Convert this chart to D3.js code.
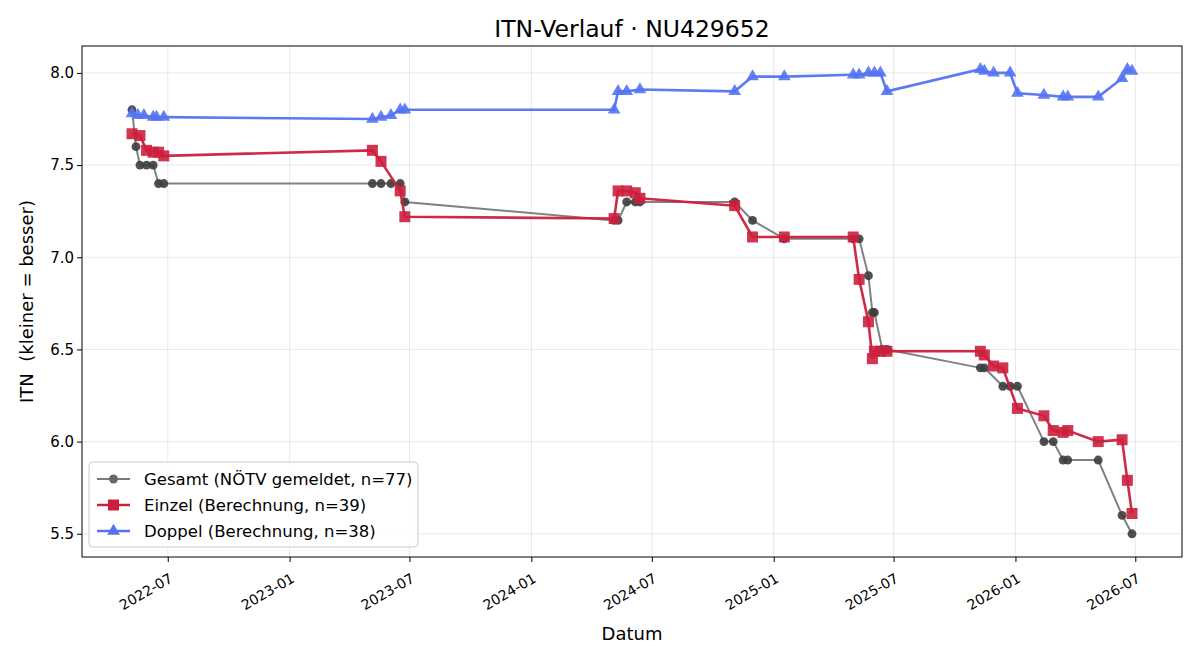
<!DOCTYPE html>
<html>
<head>
<meta charset="utf-8">
<script src="https://cdn.jsdelivr.net/npm/d3@7"></script>
<style>
  body { margin: 0; background: #fff; }
  svg, svg text { font-family: "DejaVu Sans", sans-serif; }
</style>
</head>
<body>
<svg width="1200" height="660"></svg>
<script>
var width = 1200;
var height = 660;
var margin = { top: 46, right: 18, bottom: 103, left: 82 };

// Gesamt (NÖTV gemeldet)
var gesamtDates = ['2022-05-08','2022-05-14','2022-05-20','2022-05-30','2022-06-09','2022-06-17','2022-06-25',
  '2023-05-06','2023-05-19','2023-06-03','2023-06-17','2023-06-24',
  '2024-05-05','2024-05-11','2024-05-24','2024-06-06','2024-06-13','2024-11-03','2024-11-30',
  '2025-01-17','2025-05-01','2025-05-10','2025-05-24','2025-05-30','2025-06-02','2025-06-14','2025-06-21',
  '2025-11-09','2025-11-15','2025-12-13','2025-12-24','2026-01-04','2026-02-13','2026-02-27',
  '2026-03-14','2026-03-21','2026-05-06','2026-06-11','2026-06-26'];
var gesamtValues = [7.80,7.60,7.50,7.50,7.50,7.40,7.40,
  7.40,7.40,7.40,7.40,7.30,
  7.20,7.20,7.30,7.30,7.30,7.30,7.20,
  7.10,7.10,7.10,6.90,6.70,6.70,6.50,6.50,
  6.40,6.40,6.30,6.30,6.30,6.00,6.00,
  5.90,5.90,5.90,5.60,5.50];

// Einzel (Berechnung)
var einzelDates = ['2022-05-08','2022-05-20','2022-05-30','2022-06-09','2022-06-17','2022-06-25',
  '2023-05-06','2023-05-19','2023-06-17','2023-06-24',
  '2024-05-05','2024-05-11','2024-05-24','2024-06-06','2024-06-13','2024-11-03','2024-11-30',
  '2025-01-17','2025-05-01','2025-05-10','2025-05-24','2025-05-30','2025-06-02','2025-06-11','2025-06-21',
  '2025-11-09','2025-11-15','2025-11-29','2025-12-13','2026-01-04','2026-02-13','2026-02-27',
  '2026-03-14','2026-03-21','2026-05-06','2026-06-11','2026-06-19','2026-06-26'];
var einzelValues = [7.67,7.66,7.58,7.57,7.57,7.55,
  7.58,7.52,7.36,7.22,
  7.21,7.36,7.36,7.35,7.32,7.28,7.11,
  7.11,7.11,6.88,6.65,6.45,6.49,6.49,6.49,
  6.49,6.47,6.41,6.40,6.18,6.14,6.06,
  6.05,6.06,6.00,6.01,5.79,5.61];

// Doppel (Berechnung)
var doppelDates = ['2022-05-08','2022-05-17','2022-05-26','2022-06-09','2022-06-14','2022-06-25',
  '2023-05-06','2023-05-19','2023-06-03','2023-06-17','2023-06-24',
  '2024-05-05','2024-05-11','2024-05-24','2024-06-13','2024-11-03','2024-11-30',
  '2025-01-17','2025-05-01','2025-05-10','2025-05-24','2025-06-02','2025-06-11','2025-06-21',
  '2025-11-09','2025-11-15','2025-11-29','2025-12-24','2026-01-04','2026-02-13',
  '2026-03-14','2026-03-21','2026-05-06','2026-06-11','2026-06-19','2026-06-26'];
var doppelValues = [7.78,7.77,7.77,7.76,7.76,7.76,
  7.75,7.76,7.77,7.80,7.80,
  7.80,7.90,7.90,7.91,7.90,7.98,
  7.98,7.99,7.99,8.00,8.00,8.00,7.90,
  8.02,8.01,8.00,8.00,7.89,7.88,
  7.87,7.87,7.87,7.97,8.02,8.01];

var yTicks = [5.5, 6.0, 6.5, 7.0, 7.5, 8.0];

var parse = d3.timeParse('%Y-%m-%d');
function zipSeries(dates, values) {
  return dates.map((d, i) => ({ date: parse(d), value: values[i] }));
}
var series = [
  { name: 'Gesamt (NÖTV gemeldet, n=77)', data: zipSeries(gesamtDates, gesamtValues),
    line: '#7a7a7a', lineWidth: 2, marker: 'circle', fill: '#3d3d3d', legendFill: '#666666', size: 62 },
  { name: 'Einzel (Berechnung, n=39)', data: zipSeries(einzelDates, einzelValues),
    line: '#cc1f3d', lineWidth: 2.6, marker: 'square', fill: '#cc1f3d', legendFill: '#cc1f3d', size: 121 },
  { name: 'Doppel (Berechnung, n=38)', data: zipSeries(doppelDates, doppelValues),
    line: '#5473f2', lineWidth: 2.6, marker: 'triangle', fill: '#5473f2', legendFill: '#5473f2', size: 70 }
];

var allPts = series.flatMap(s => s.data);
var xExt = d3.extent(allPts, d => d.date);
var xPad = (xExt[1] - xExt[0]) * 0.05;
var yExt = d3.extent(allPts, d => d.value);
var yPad = (yExt[1] - yExt[0]) * 0.05;

var xScale = d3.scaleTime()
  .domain([new Date(+xExt[0] - xPad), new Date(+xExt[1] + xPad)])
  .range([margin.left, width - margin.right]);

var yScale = d3.scaleLinear()
  .domain([yExt[0] - yPad, yExt[1] + yPad])
  .range([height - margin.bottom, margin.top]);

var xTicks = d3.timeMonth.every(6).range(new Date(2022, 6, 1), new Date(2026, 7, 1));

var svg = d3.select('svg');

// grid
svg.append('g')
  .selectAll('line')
  .data(xTicks)
  .enter()
  .append('line')
    .attr('x1', d => xScale(d)).attr('x2', d => xScale(d))
    .attr('y1', margin.top).attr('y2', height - margin.bottom)
    .attr('stroke', '#b0b0b0').attr('stroke-opacity', 0.35).attr('stroke-width', 0.8);

svg.append('g')
  .selectAll('line')
  .data(yTicks)
  .enter()
  .append('line')
    .attr('x1', margin.left).attr('x2', width - margin.right)
    .attr('y1', d => yScale(d)).attr('y2', d => yScale(d))
    .attr('stroke', '#b0b0b0').attr('stroke-opacity', 0.35).attr('stroke-width', 0.8);

// lines + markers
var symbolTypes = { circle: d3.symbolCircle, square: d3.symbolSquare, triangle: d3.symbolTriangle };

series.forEach(function(s) {
  var line = d3.line().x(d => xScale(d.date)).y(d => yScale(d.value));
  svg.append('path')
    .datum(s.data)
    .attr('d', line)
    .attr('fill', 'none')
    .attr('stroke', s.line)
    .attr('stroke-width', s.lineWidth)
    .attr('stroke-opacity', 0.95);

  svg.append('g')
    .selectAll('path')
    .data(s.data)
    .enter()
    .append('path')
      .attr('transform', d => `translate(${xScale(d.date)},${yScale(d.value)})`)
      .attr('d', d3.symbol().type(symbolTypes[s.marker]).size(s.size))
      .attr('fill', s.fill)
      .attr('fill-opacity', 0.9);
});

// axes
var xAxis = d3.axisBottom(xScale)
  .tickValues(xTicks)
  .tickFormat(d3.timeFormat('%Y-%m'))
  .tickSize(5)
  .tickSizeOuter(0);

var yAxis = d3.axisLeft(yScale)
  .tickValues(yTicks)
  .tickFormat(d3.format('.1f'))
  .tickSize(5)
  .tickSizeOuter(0);

var gx = svg.append('g')
  .attr('transform', `translate(0, ${height - margin.bottom})`)
  .call(xAxis)
  .attr('font-family', 'DejaVu Sans')
  .attr('font-size', 14);
gx.select('.domain').remove();
gx.selectAll('text')
  .attr('fill', '#000')
  .attr('text-anchor', 'end')
  .attr('dy', '0.35em')
  .attr('transform', 'translate(-1,13) rotate(-30)');

var gy = svg.append('g')
  .attr('transform', `translate(${margin.left}, 0)`)
  .call(yAxis)
  .attr('font-family', 'DejaVu Sans')
  .attr('font-size', 15);
gy.select('.domain').remove();
gy.selectAll('text').attr('fill', '#000');

// frame
svg.append('rect')
  .attr('x', margin.left).attr('y', margin.top)
  .attr('width', width - margin.left - margin.right)
  .attr('height', height - margin.top - margin.bottom)
  .attr('fill', 'none').attr('stroke', '#000').attr('stroke-width', 1);

//title
svg.append('text')
  .attr('x', (margin.left + width - margin.right) / 2)
  .attr('y', 37)
  .style('text-anchor', 'middle')
  .style('font-size', '23.5px')
  .text('ITN-Verlauf · NU429652');

//x-axis label
svg.append('text')
  .attr('x', (margin.left + width - margin.right) / 2)
  .attr('y', 640)
  .style('text-anchor', 'middle')
  .style('font-size', '18px')
  .text('Datum');

//y-axis label
svg.append('text')
  .attr('transform', 'rotate(-90)')
  .attr('x', -(margin.top + height - margin.bottom) / 2)
  .attr('y', 33)
  .style('text-anchor', 'middle')
  .style('font-size', '18px')
  .style('white-space', 'pre')
  .attr('xml:space', 'preserve')
  .text('ITN  (kleiner = besser)');

// legend
var legend = svg.append('g').attr('transform', 'translate(89, 462)');
legend.append('rect')
  .attr('width', 329).attr('height', 85)
  .attr('rx', 4)
  .attr('fill', '#fff').attr('fill-opacity', 0.8)
  .attr('stroke', '#cccccc');

series.forEach(function(s, i) {
  var row = legend.append('g').attr('transform', `translate(0, ${17 + i * 26})`);
  row.append('line')
    .attr('x1', 8).attr('x2', 41)
    .attr('stroke', s.line).attr('stroke-width', s.lineWidth);
  row.append('path')
    .attr('transform', 'translate(24.5,0)')
    .attr('d', d3.symbol().type(symbolTypes[s.marker]).size(s.size))
    .attr('fill', s.legendFill);
  row.append('text')
    .attr('x', 55)
    .attr('dy', '0.35em')
    .style('font-size', '16.5px')
    .text(s.name);
});
</script>
</body>
</html>
